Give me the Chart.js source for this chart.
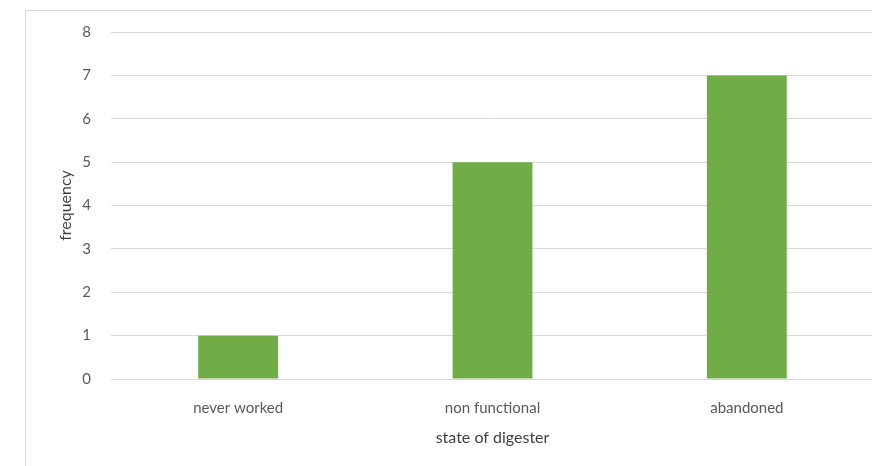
<!DOCTYPE html>
<html>
<head>
<meta charset="utf-8">
<script src="https://cdn.jsdelivr.net/npm/chart.js@4/dist/chart.umd.min.js"></script>
<style>
  html, body { margin: 0; padding: 0; background: #fff; overflow: hidden; width: 872px; height: 466px; }
  #box { position: absolute; left: 25px; top: 10px; width: 880px; height: 470px; border: 1px solid #d9d9d9; background: #fff; }
  canvas { display: block; }
</style>
</head>
<body>
<div id="box"><canvas id="chart" width="880" height="470"></canvas></div>
<script>
// categories and values
const categories = ['never worked', 'non functional', 'abandoned'];
const frequency = [1, 5, 7];
const yTicks = [0, 1, 2, 3, 4, 5, 6, 7, 8];

Chart.defaults.font.family = 'Lato, "Open Sans", sans-serif';

const ctx = document.getElementById('chart').getContext('2d');
new Chart(ctx, {
    type: 'bar',
    data: {
        labels: categories,
        datasets: [{
            label: 'frequency',
            data: frequency,
            backgroundColor: '#70ad47',
            borderWidth: 0,
            barPercentage: 0.314,
            categoryPercentage: 1
        }]
    },
    options: {
        responsive: false,
        animation: false,
        layout: { padding: { left: 0, top: 21, right: 32, bottom: 22 } },
        plugins: {
            legend: { display: false },
            tooltip: { enabled: false }
        },
        scales: {
            x: {
                grid: { display: false },
                border: { display: false },
                ticks: { color: '#595959', font: { size: 15 }, padding: 12 },
                title: { display: true, text: 'state of digester', color: '#404040', font: { size: 16 }, padding: { top: 0, bottom: 12 } },
                afterFit: s => { s.height = 80; }
            },
            y: {
                min: yTicks[0],
                max: yTicks[yTicks.length - 1],
                afterBuildTicks: s => { s.ticks = yTicks.map(v => ({ value: v })); },
                grid: { color: '#d9d9d9', lineWidth: 1, drawTicks: false },
                border: { display: false },
                ticks: { color: '#595959', font: { size: 15 }, padding: 20 },
                title: { display: true, text: 'frequency', color: '#404040', font: { size: 16 }, padding: { top: 30, bottom: 0 } },
                afterFit: s => { s.width = 85; s.paddingTop = 0; s.paddingBottom = 0; }
            }
        }
    }
});
</script>
</body>
</html>
